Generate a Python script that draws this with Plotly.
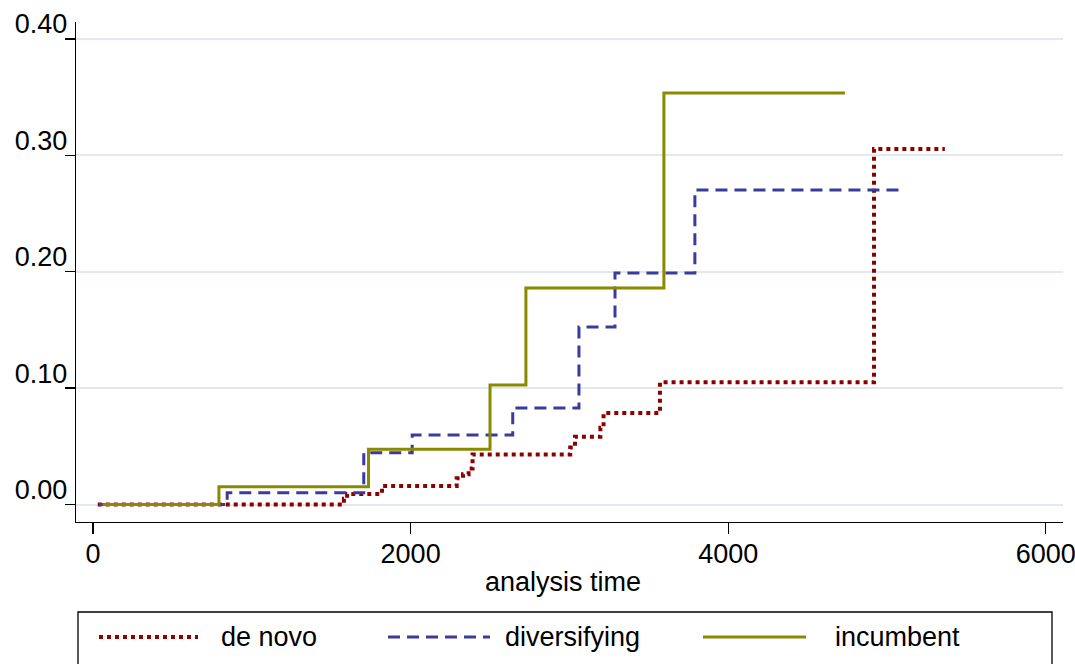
import plotly.graph_objects as go

# ---- data ----
denovo_t = [30, 1580, 1600, 1820, 2290, 2330, 2365, 2390, 3005, 3035, 3195, 3215, 3570, 4918, 5364]
denovo_y = [0.0, 0.005, 0.009, 0.016, 0.0225, 0.026, 0.031, 0.043, 0.049, 0.0583, 0.066, 0.0786, 0.105, 0.3054, 0.3054]

divers_t = [38, 845, 1705, 2010, 2643, 3060, 3287, 3790, 5100]
divers_y = [0.0, 0.0101, 0.0445, 0.0597, 0.083, 0.1525, 0.199, 0.2703, 0.2703]

incumb_t = [60, 793, 1735, 2500, 2726, 3595, 4735]
incumb_y = [0.0, 0.0153, 0.0474, 0.1027, 0.186, 0.3536, 0.3536]

series_names = ["de novo", "diversifying", "incumbent"]
x_ticks = [0, 2000, 4000, 6000]
y_ticks = [0.0, 0.1, 0.2, 0.3, 0.4]
y_tick_labels = ["0.00", "0.10", "0.20", "0.30", "0.40"]
x_title = "analysis time"

# ---- styles ----
FONT = "Liberation Sans, Arial, sans-serif"
FS = 27
RED = "#8b0000"
BLUE = "#3b3b9c"
OLIVE = "#8a8a00"
styles = [
    dict(color=RED, width=4, dash="dot"),
    dict(color=BLUE, width=3, dash="12px,7px"),
    dict(color=OLIVE, width=3, dash="solid"),
]

W, H = 1075, 664
L, R, T, B = 76, 1063, 22, 522  # plot area in pixels


def px_x(p):
    return (p - L) / (R - L)


def px_y(p):
    return (B - p) / (B - T)


fig = go.Figure()
for (tx, ty), nm, st in zip([(denovo_t, denovo_y), (divers_t, divers_y), (incumb_t, incumb_y)],
                            series_names, styles):
    fig.add_trace(go.Scatter(x=tx, y=ty, mode="lines", name=nm, line_shape="hv",
                             line=st, showlegend=False, hoverinfo="skip"))

# ---- manual legend ----
shapes = [dict(type="rect", xref="paper", yref="paper",
               x0=px_x(78), x1=px_x(1052), y0=px_y(720), y1=px_y(612),
               line=dict(color="black", width=1.3), fillcolor="rgba(0,0,0,0)")]
annotations = []
leg_y = 637
samples = [(99, 198, 219), (388, 490, 503), (703, 806, 833)]
for (a, b, tx0), nm, st in zip(samples, series_names, styles):
    shapes.append(dict(type="line", xref="paper", yref="paper",
                       x0=px_x(a), x1=px_x(b), y0=px_y(leg_y), y1=px_y(leg_y),
                       line=st))
    annotations.append(dict(xref="paper", yref="paper", x=px_x(tx0), y=px_y(leg_y),
                            text=nm, showarrow=False, xanchor="left", yanchor="middle",
                            font=dict(family=FONT, size=FS, color="black")))

# x-axis title
annotations.append(dict(xref="paper", yref="paper", x=px_x(563), y=px_y(582),
                        text=x_title, showarrow=False, xanchor="center", yanchor="middle",
                        font=dict(family=FONT, size=FS, color="black")))

fig.update_layout(
    width=W, height=H,
    margin=dict(l=L, r=W - R, t=T, b=H - B, autoexpand=False),
    paper_bgcolor="white", plot_bgcolor="white",
    font=dict(family=FONT, size=FS, color="black"),
    shapes=shapes, annotations=annotations,
    showlegend=False,
)
fig.update_xaxes(
    range=[-107, 6108], tickvals=x_ticks, ticktext=[str(v) for v in x_ticks],
    showgrid=False, zeroline=False, showline=True, linecolor="black", linewidth=1.3,
    ticks="outside", ticklen=11, tickcolor="black", tickwidth=1.3,
    tickfont=dict(family=FONT, size=FS), automargin=False, ticklabeloverflow="allow",
    ticklabelstandoff=-4,
)
fig.update_yaxes(
    range=[-0.01504, 0.4146], tickvals=y_ticks, ticktext=y_tick_labels,
    showgrid=True, gridcolor="#e3e7f0", gridwidth=2, zeroline=False,
    showline=True, linecolor="black", linewidth=1.3,
    ticks="outside", ticklen=10, tickcolor="black", tickwidth=1.3,
    tickfont=dict(family=FONT, size=FS), ticklabelshift=-15, ticklabelstandoff=-8,
    automargin=False, ticklabeloverflow="allow",
)

fig.write_html("out.html", config={"displayModeBar": False, "staticPlot": True})

# remove the default page margin so the figure sits at the window's top-left corner
with open("out.html", "r", encoding="utf-8") as f:
    html = f.read()
html = html.replace("<body>", '<body style="margin:0;padding:0;overflow:hidden">', 1)
with open("out.html", "w", encoding="utf-8") as f:
    f.write(html)
